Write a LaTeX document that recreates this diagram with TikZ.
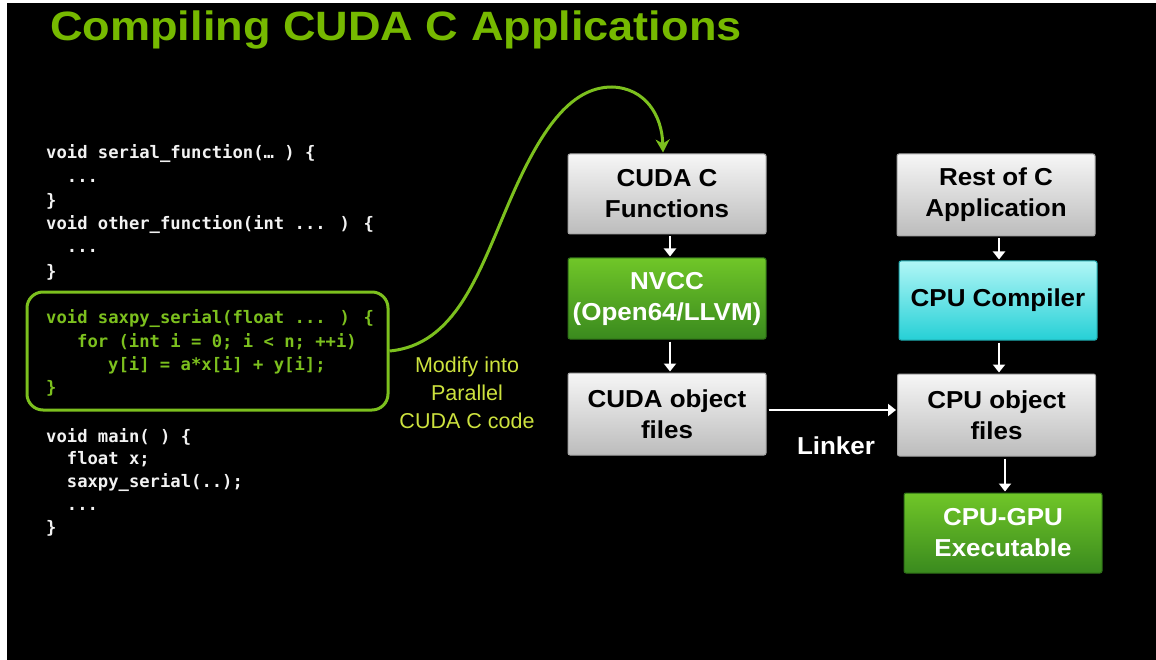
\documentclass[tikz,border=0pt]{standalone}
\usepackage{fontspec}
\setmainfont{Liberation Sans}
\newfontfamily\titlefont{Liberation Sans}[FakeStretch=1.1]
\newfontfamily\boxfont{Liberation Sans}[FakeStretch=1.06]
\newfontfamily\codefont{DejaVu Sans Mono}
\usetikzlibrary{arrows.meta,calc}
\definecolor{nvgreen}{RGB}{118,185,0}
\definecolor{codegreen}{RGB}{124,192,30}
\definecolor{modcol}{RGB}{205,226,62}
\definecolor{codewhite}{RGB}{242,242,242}
\definecolor{graytop}{RGB}{246,246,246}
\definecolor{graybot}{RGB}{188,188,188}
\definecolor{greentop}{RGB}{112,198,40}
\definecolor{greenbot}{RGB}{58,138,30}
\definecolor{cyantop}{RGB}{176,246,246}
\definecolor{cyanbot}{RGB}{38,208,214}
\tikzset{
  box/.style={rectangle, rounded corners=2pt, minimum width=198pt, minimum height=81pt,
    inner sep=0pt, align=center, line width=1pt,
    font=\boxfont\bfseries\fontsize{24.5}{31}\selectfont},
  graybox/.style={box, top color=graytop, bottom color=graybot, draw=gray!70, text=black},
  greenbox/.style={box, top color=greentop, bottom color=greenbot, draw=greenbot!80!black, text=white},
  cyanbox/.style={box, top color=cyantop, bottom color=cyanbot, draw=cyanbot!80!black, text=black},
  codeline/.style={anchor=base west, inner sep=0pt, font=\codefont\bfseries\fontsize{17.2}{23}\selectfont},
  wline/.style={codeline, text=codewhite},
  gline/.style={codeline, text=codegreen},
  flow/.style={draw=white, line width=2.5pt, -{Triangle[length=8pt,width=12pt]}, shorten <=2pt, shorten >=1pt},
  curvearrow/.style={draw=codegreen, line width=3pt, -{Stealth[length=13pt,width=14pt,inset=4pt]}},
}
\begin{document}
\begin{tikzpicture}[x=1pt,y=1pt]
\useasboundingbox (0,0) rectangle (1156,-660);
\fill[white] (0,0) rectangle (1156,-660);
\fill[black] (7,-3) rectangle (1156,-660);

% title
\node[anchor=base west, inner sep=0pt, text=nvgreen, font=\titlefont\bfseries\fontsize{41}{46}\selectfont]
  (title) at (50,-41) {Compiling CUDA C Applications};

% code
\node[wline] (l1) at (46,-159) {void serial\_function(… ) \{};
\node[wline] (l2) at (66.7,-183) {...};
\node[wline] (l3) at (46,-207) {\}};
\node[wline] (l4) at (46,-230) {void other\_function(int ... ) \{};
\node[wline] (l5) at (66.7,-253) {...};
\node[wline] (l6) at (46,-277) {\}};
\node[gline] (l7) at (46,-323) {void saxpy\_serial(float ... ) \{};
\node[gline] (l8) at (77,-347) {for (int i = 0; i < n; ++i)};
\node[gline] (l9) at (108,-370) {y[i] = a*x[i] + y[i];};
\node[gline] (l10) at (46,-393) {\}};
\node[wline] (l11) at (46,-442) {void main( ) \{};
\node[wline] (l12) at (66.7,-464) {float x;};
\node[wline] (l13) at (66.7,-487) {saxpy\_serial(..);};
\node[wline] (l14) at (66.7,-510) {...};
\node[wline] (l15) at (46,-533) {\}};

\node[draw=codegreen, line width=3pt, rounded corners=16pt, minimum width=361pt,
  minimum height=118pt, inner sep=0pt] (codebox) at (207.5,-351) {};

% label
\node[align=center, text=modcol, inner sep=0pt, font=\fontsize{21.5}{27.7}\selectfont]
  (modify) at (467,-393) {Modify into\\Parallel\\CUDA C code};

% boxes
\node[graybox, minimum height=80pt] (cudaF) at (667,-194) {CUDA C\\Functions};
\node[greenbox] (nvcc) at (667,-298.5) {NVCC\\(Open64/LLVM)};
\node[graybox, minimum height=82pt] (cudaO) at (667,-414) {CUDA object\\files};
\node[graybox, minimum height=82pt] (rest) at (996,-195) {Rest of C\\Application};
\node[cyanbox, minimum height=79pt] (cpuC) at (998,-300.5) {CPU Compiler};
\node[graybox, minimum height=82pt] (cpuO) at (996.5,-415) {CPU object\\files};
\node[greenbox, minimum height=80pt] (exe) at (1003,-533) {CPU-GPU\\Executable};

\node[text=white, inner sep=0pt, font=\boxfont\bfseries\fontsize{24.5}{31}\selectfont]
  (linker) at (836,-446) {Linker};

% connectors
\draw[flow] ([xshift=3pt]cudaF.south) -- ([xshift=3pt]nvcc.north);
\draw[flow] ([xshift=3pt]nvcc.south) -- ([xshift=3pt]cudaO.north);
\draw[flow] ([xshift=3pt]rest.south) -- ([xshift=1pt]cpuC.north);
\draw[flow] ([xshift=1pt]cpuC.south) -- ([xshift=2.5pt]cpuO.north);
\draw[flow] ([xshift=8.5pt]cpuO.south) -- ([xshift=2pt]exe.north);
\draw[flow] ([yshift=4pt]cudaO.east) -- ([yshift=4pt]cudaO.east -| cpuO.west);

\draw[curvearrow] (codebox.east) .. controls (455,-345) and (478,-275) .. (508,-205)
  .. controls (540,-130) and (570,-87) .. (612,-87)
  .. controls (645,-88) and (662,-115) .. ([xshift=-4pt,yshift=1pt]cudaF.north);
\end{tikzpicture}
\end{document}
